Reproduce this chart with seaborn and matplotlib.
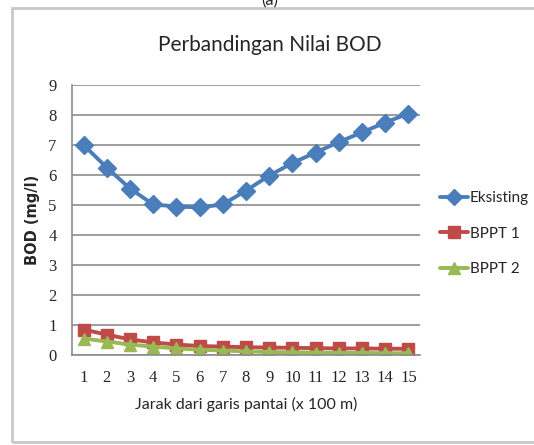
import pandas as pd
import seaborn as sns
import matplotlib.pyplot as plt
from matplotlib.patches import Rectangle

jarak = list(range(1, 16))
eksisting = [7.0, 6.25, 5.55, 5.02, 4.95, 4.92, 5.02, 5.48, 5.98, 6.4, 6.75, 7.1, 7.42, 7.75, 8.05]
bppt1 = [0.85, 0.68, 0.52, 0.42, 0.35, 0.3, 0.28, 0.26, 0.25, 0.24, 0.23, 0.22, 0.22, 0.21, 0.21]
bppt2 = [0.55, 0.45, 0.35, 0.28, 0.22, 0.18, 0.15, 0.12, 0.1, 0.09, 0.08, 0.07, 0.07, 0.06, 0.06]
series_names = ["Eksisting", "BPPT 1", "BPPT 2"]

df = pd.DataFrame({
    "jarak": jarak * 3,
    "bod": eksisting + bppt1 + bppt2,
    "seri": [s for s in series_names for _ in jarak],
})

sns.set_style("white")
plt.rcParams["font.family"] = ["Lato", "DejaVu Sans"]

fig = plt.figure(figsize=(5.34, 4.45), dpi=100)
ax = fig.add_axes([0.1348, 0.2022, 0.6517, 0.6067])

fig.patches.append(Rectangle((12 / 534, 1 - 442 / 445), 1.0, 434 / 445,
                             transform=fig.transFigure, fill=False,
                             edgecolor="#c8c8c8", linewidth=2.0))

palette = {"Eksisting": "#4a7ebb", "BPPT 1": "#be4b48", "BPPT 2": "#98b954"}
markers = {"Eksisting": "D", "BPPT 1": "s", "BPPT 2": "^"}
sns.lineplot(data=df, x="jarak", y="bod", hue="seri", style="seri",
             palette=palette, markers=markers, dashes=False,
             linewidth=2.8, markersize=9, ax=ax)
for line in ax.lines:
    line.set_markeredgecolor(line.get_color())
    line.set_markeredgewidth(1.0)

ax.set_xlim(0.5, 15.5)
ax.set_ylim(0, 9)
ax.set_yticks(range(0, 10))
ax.set_xticks(jarak)
ax.set_xticks([x + 0.5 for x in range(0, 16)], minor=True)
ax.grid(axis="y", color="#8c8c8c", linewidth=1.2)
ax.set_axisbelow(True)
for side in ["top", "right"]:
    ax.spines[side].set_visible(False)
for side in ["left", "bottom"]:
    ax.spines[side].set_color("#8c8c8c")
    ax.spines[side].set_linewidth(1.2)
ax.tick_params(axis="x", which="major", length=0, pad=11)
ax.tick_params(axis="x", which="minor", length=5, color="#8c8c8c", direction="out")
ax.tick_params(axis="y", length=5, color="#8c8c8c", direction="out", pad=6)
for lbl in ax.get_xticklabels() + ax.get_yticklabels():
    lbl.set_family(["Liberation Serif", "DejaVu Serif"])
    lbl.set_fontsize(12)

ax.set_xlabel("Jarak dari garis pantai (x 100 m)", fontsize=11.5, labelpad=8)
ax.set_ylabel("BOD (mg/l)", fontsize=10.5, fontweight="bold", labelpad=6,
              family=["DejaVu Sans"])
fig.text(0.505, 1 - 45 / 445, "Perbandingan Nilai BOD", ha="center", va="center",
         fontsize=15)
fig.text(0.505, 1.0, "(a)", ha="center", va="center", fontsize=12)

handles, labels = ax.get_legend_handles_labels()
for h in handles:
    h.set_markeredgecolor(h.get_color())
    h.set_markersize(8)
ax.legend(handles, labels, loc="center left", bbox_to_anchor=(1.049, 0.45),
          borderaxespad=0, borderpad=0.2,
          frameon=False, fontsize=11, handlelength=1.8, handletextpad=0.15,
          labelspacing=1.4)

fig.savefig("out.png", dpi=100)
